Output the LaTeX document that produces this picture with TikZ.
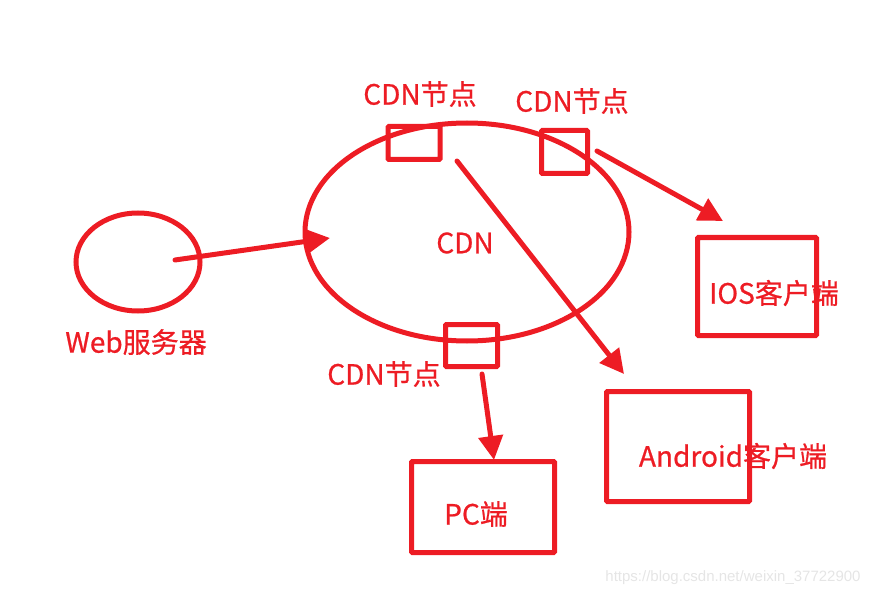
\documentclass[tikz,border=0pt]{standalone}
\usepackage{fontspec}
\setmainfont{Noto Sans CJK SC}[FakeBold=0.7]
\newfontfamily\wmfont{Liberation Sans}
\usetikzlibrary{arrows.meta}
\definecolor{pred}{HTML}{ED1C24}
\tikzset{
  red line/.style={draw=pred, line width=5pt},
  conn/.style={draw=pred, line width=5pt, line cap=round, -{Triangle[length=24pt,width=24pt]}},
  lbl/.style={text=pred, font=\fontsize{28}{32}\selectfont, inner sep=0pt},
  sq/.style={draw=pred, line width=5pt, rounded corners=1pt}
}
\begin{document}
\begin{tikzpicture}[x=1pt, y=-1pt]
\useasboundingbox (0,0) rectangle (878,596);
% web server
\draw[red line] (138,262) ellipse [x radius=62, y radius=49];
\node[lbl] (weblbl) at (136,342) {Web服务器};
% CDN cloud
\draw[red line] (467,232) ellipse [x radius=162, y radius=109];
\node[lbl] (cdnlbl) at (465,243) {CDN};
% node squares
\node[sq, minimum width=52pt, minimum height=33pt, inner sep=0pt] (n1) at (414,143) {};
\node[sq, minimum width=46pt, minimum height=43pt, inner sep=0pt] (n2) at (564.5,152) {};
\node[sq, minimum width=52pt, minimum height=42pt, inner sep=0pt] (n3) at (471.5,345.5) {};
\node[lbl] (l1) at (420,94) {CDN节点};
\node[lbl] (l2) at (572,101) {CDN节点};
\node[lbl] (l3) at (384,374) {CDN节点};
% clients
\node[sq, minimum width=119pt, minimum height=98pt, inner sep=0pt] (ios) at (757,286.5) {};
\node[lbl] at (774,293) {IOS客户端};
\node[sq, minimum width=143pt, minimum height=110pt, inner sep=0pt] (android) at (678,446.5) {};
\node[lbl] at (733,456) {Android客户端};
\node[sq, minimum width=143pt, minimum height=91pt, inner sep=0pt] (pc) at (483,507) {};
\node[lbl] at (476,514) {PC端};
% connectors
\coordinate (a1s) at (175,260);
\coordinate (a1e) at (330,238);
\draw[conn] (a1s) -- (a1e);
\coordinate (a2s) at (597,151);
\coordinate (a2e) at (723,221);
\draw[conn] (a2s) -- (a2e);
\coordinate (a3s) at (457,161);
\coordinate (a3e) at (624,374);
\draw[conn] (a3s) -- (a3e);
\coordinate (a4s) at (482,374);
\coordinate (a4e) at (494,460);
\draw[conn] (a4s) -- (a4e);
% watermark
\node[text=black!10, font=\wmfont\fontsize{15}{17}\selectfont, inner sep=0pt] (wm) at (733,578) {https://blog.csdn.net/weixin\_37722900};
\end{tikzpicture}
\end{document}
